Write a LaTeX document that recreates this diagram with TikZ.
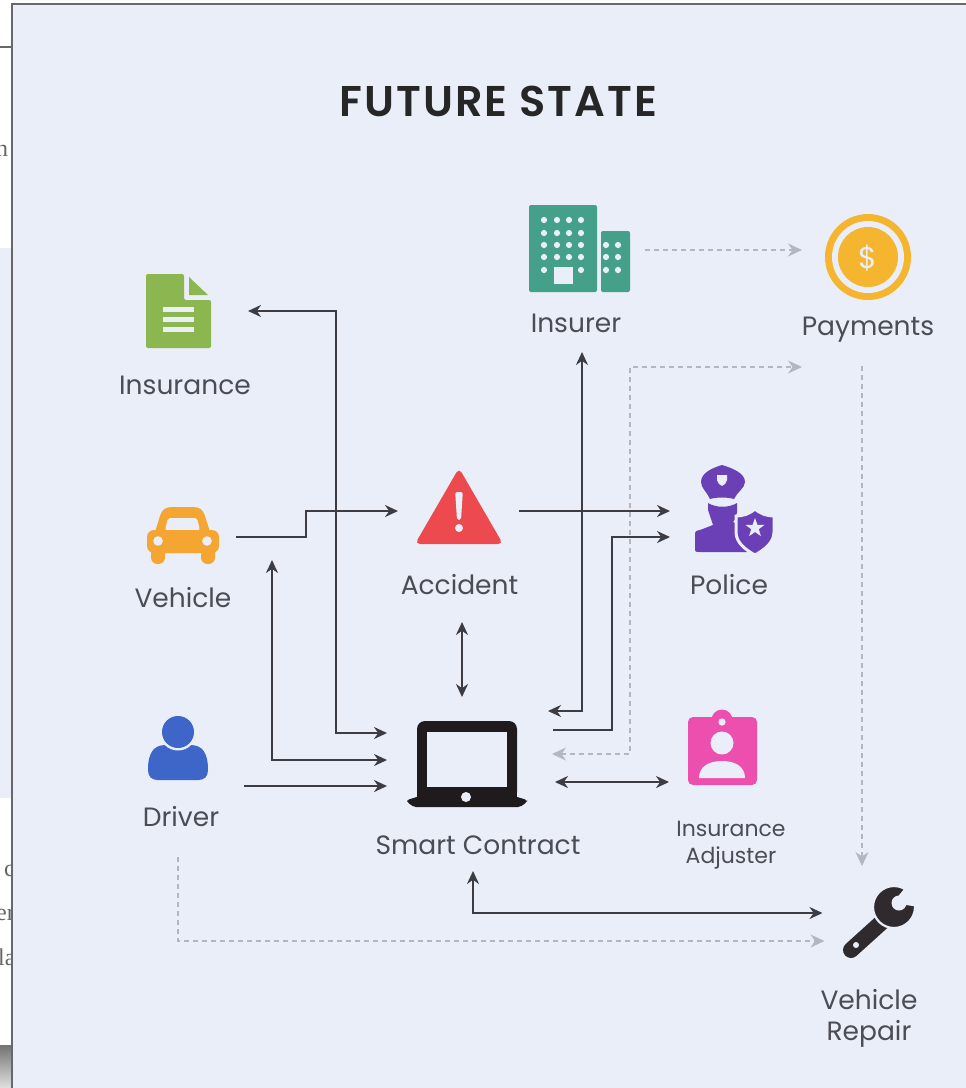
\documentclass[tikz,border=0pt]{standalone}
\usepackage{fontspec}
\setmainfont{Poppins}
\newfontfamily\fragfont{Liberation Serif}
\newfontfamily\titlefont[LetterSpace=4.5]{Poppins SemiBold}
\usetikzlibrary{arrows.meta}
\definecolor{panelbg}{HTML}{E9EEF9}
\definecolor{framecol}{HTML}{67676C}
\definecolor{inkcol}{HTML}{3C3C42}
\definecolor{dashcol}{HTML}{B4B7C0}
\definecolor{labelcol}{HTML}{4C4C54}
\definecolor{greencol}{HTML}{8BB650}
\definecolor{orangecol}{HTML}{F5A531}
\definecolor{redcol}{HTML}{EC4A4F}
\definecolor{bluecol}{HTML}{3D66C8}
\definecolor{tealcol}{HTML}{45A08A}
\definecolor{goldcol}{HTML}{F5B52E}
\definecolor{purplecol}{HTML}{6B3FB5}
\definecolor{pinkcol}{HTML}{EC4FAE}
\definecolor{darkcol}{HTML}{1F1B1D}
\definecolor{wrenchcol}{HTML}{2F2A2E}
\tikzset{
  hitbox/.style={rectangle,draw=none,fill=none,inner sep=0pt,outer sep=0pt},
  lbl/.style={text=labelcol,font=\fontsize{26.5}{31}\selectfont,align=center,inner sep=0pt},
  lblsmall/.style={text=labelcol,font=\fontsize{22}{27}\selectfont,align=center,inner sep=0pt},
  titlelbl/.style={text=black!85,font=\fontsize{43}{46}\titlefont,inner sep=0pt},
  frag/.style={text=black!60,font=\fontsize{24}{28}\fragfont,inner sep=0pt},
  solidone/.style={draw=inkcol,line width=2.1pt,-{Stealth[length=13pt,width=12pt]}},
  soliddbl/.style={draw=inkcol,line width=2.1pt,{Stealth[length=13pt,width=12pt]}-{Stealth[length=13pt,width=12pt]}},
  dashone/.style={draw=dashcol,line width=2pt,dash pattern=on 5pt off 4pt,-{Stealth[length=14pt,width=13pt]}},
  dashdbl/.style={draw=dashcol,line width=2pt,dash pattern=on 5pt off 4pt,{Stealth[length=14pt,width=13pt]}-{Stealth[length=14pt,width=13pt]}},
}
\begin{document}
\begin{tikzpicture}[x=1pt,y=-1pt]
\useasboundingbox (0,0) rectangle (966,1088);
\clip (0,0) rectangle (966,1088);
% page behind the panel
\fill[white] (0,0) rectangle (966,1088);
\fill[panelbg] (0,248) rectangle (12,798);
\fill[framecol] (0,46) rectangle (12,48);
\shade[top color=black!55,bottom color=black!12] (0,1045) rectangle (12,1088);
\node[frag,anchor=base west] (fragA) at (-4,156) {n};
\node[frag,anchor=base west] (fragB) at (4,876) {c};
\node[frag,anchor=base west] (fragC) at (-4,920) {er};
\node[frag,anchor=base west] (fragD) at (-2,965) {la};
% panel
\fill[panelbg] (12,4) rectangle (970,1092);
\draw[framecol,line width=2.4pt] (12,1092) -- (12,4) -- (970,4);
% title
\node[titlelbl,anchor=base] (title) at (498.5,116) {FUTURE STATE};

% hit boxes
\node[hitbox,minimum width=126pt,minimum height=130pt] (insurance) at (185,335) {};
\node[hitbox,minimum width=90pt,minimum height=105pt] (vehicle) at (191,557.5) {};
\node[hitbox,minimum width=121pt,minimum height=152pt] (accident) at (458.5,546) {};
\node[hitbox,minimum width=105pt,minimum height=137pt] (police) at (722.5,531.5) {};
\node[hitbox,minimum width=104pt,minimum height=142pt] (driver) at (192,786) {};
\node[hitbox,minimum width=166pt,minimum height=174pt] (smart) at (470,784) {};
\node[hitbox,minimum width=121pt,minimum height=160pt] (adjuster) at (729.5,790) {};
\node[hitbox,minimum width=120pt,minimum height=149pt] (insurer) at (585,277.5) {};
\node[hitbox,minimum width=133pt,minimum height=154pt] (payments) at (868.5,289) {};
\node[hitbox,minimum width=93pt,minimum height=179pt] (repair) at (869,955.5) {};
\coordinate (vehicleIn) at (272,560);

% labels
\node[lbl,anchor=base] (insuranceL) at (185,394) {Insurance};
\node[lbl,anchor=base] (vehicleL) at (183,607) {Vehicle};
\node[lbl,anchor=base] (accidentL) at (459.5,594) {Accident};
\node[lbl,anchor=base] (policeL) at (729,594) {Police};
\node[lbl,anchor=base] (driverL) at (181,826) {Driver};
\node[lbl,anchor=base] (smartL) at (478,854) {Smart Contract};
\node[lbl,anchor=base] (insurerL) at (576,332) {Insurer};
\node[lbl,anchor=base] (paymentsL) at (868,335) {Payments};
\node[lblsmall] (adjusterL) at (731,845.5) {Insurance\\Adjuster};
\node[lbl] (repairL) at (869,1018.5) {Vehicle\\Repair};

% connectors: solid
\draw[soliddbl] (insurance.east |- 0,311) -| (336,733) -- (smart.west |- 0,733);
\draw[solidone] (vehicle.east |- 0,537) -- (306,537) -- (306,511) -- (accident.west |- 0,511);
\draw[soliddbl] (vehicleIn) |- (smart.west |- 0,760);
\draw[solidone] (driver.east |- 0,786) -- (smart.west |- 0,786);
\draw[soliddbl] (accident.south -| 462,0) -- (smart.north -| 462,0);
\draw[solidone] (accident.east |- 0,511) -- (police.west |- 0,511);
\draw[solidone] (smart.east |- 0,730) -| (612,537) -- (police.west |- 0,537);
\draw[soliddbl] (insurer.south -| 582,0) |- ([xshift=-5pt]smart.east |- 0,711);
\draw[soliddbl] ([xshift=2pt]smart.east |- 0,782) -- (adjuster.west |- 0,782);
\draw[soliddbl] (smart.south -| 473,0) |- (repair.west |- 0,913);
% connectors: dashed
\draw[dashone] (insurer.east |- 0,250) -- (payments.west |- 0,250);
\draw[dashdbl] ([xshift=-1pt]smart.east |- 0,754) -| (630,367) -- (payments.west |- 0,367);
\draw[dashone] (payments.south -| 862,0) -- (repair.north -| 862,0);
\draw[dashone] (driver.south -| 178,0) |- ([xshift=2pt]repair.west |- 0,941);

% --- icons ---
% document
\fill[greencol,rounded corners=2pt] (146,274) -- (184,274) -- (184,300) -- (211,300) -- (211,348) -- (146,348) -- cycle;
\fill[greencol] (189,277) -- (208,295) -- (189,295) -- cycle;
\foreach \yy in {309,319,329}{\fill[panelbg] (163,\yy-2.5) rectangle (194,\yy+2.5);}
% car
\fill[orangecol] (155,532) -- (160,516) .. controls (162,510) and (165,507) .. (172,507) -- (193,507) .. controls (200,507) and (203,510) .. (205,516) -- (210,532) -- cycle;
\fill[panelbg,rounded corners=2pt] (168,518) -- (197,518) -- (200,530) -- (165,530) -- cycle;
\fill[orangecol,rounded corners=7pt] (147,530) rectangle (219,553);
\fill[orangecol,rounded corners=6.5pt] (151,542) rectangle (165,564);
\fill[orangecol,rounded corners=6.5pt] (201,542) rectangle (215,564);
\fill[panelbg] (158,541) circle (4.8);
\fill[panelbg] (207,541) circle (4.8);
% warning triangle
\fill[redcol,rounded corners=5pt] (459,468) -- (503,544) -- (415,544) -- cycle;
\fill[panelbg,rounded corners=2pt] (455.2,492) -- (462.8,492) -- (461,520) -- (457,520) -- cycle;
\fill[panelbg] (459,528) circle (4);
% driver
\fill[bluecol] (148,770) .. controls (148,752) and (154,745) .. (166,745) -- (190,745) .. controls (202,745) and (208,752) .. (208,770) .. controls (208,777) and (204,780) .. (198,780) -- (158,780) .. controls (152,780) and (148,777) .. (148,770) -- cycle;
\fill[panelbg] (178,732) circle (18.5);
\fill[bluecol] (178,732) circle (16);
% laptop
\fill[darkcol,rounded corners=8pt] (417,721) rectangle (517,800);
\fill[panelbg] (427,732) rectangle (507,787);
\fill[darkcol,rounded corners=2pt] (407,800) -- (420,796) -- (514,796) -- (527,800) -- (527,802) -- (520,807) -- (414,807) -- (407,802) -- cycle;
\fill[darkcol] (417,787) rectangle (517,798);
\fill[panelbg] (466,797) circle (5);
% adjuster badge
\fill[pinkcol] (722,720) circle (10.5);
\fill[pinkcol,rounded corners=5pt] (688,717) rectangle (757,785);
\fill[panelbg] (722,722) circle (3.6);
\fill[panelbg] (722,743) circle (11.5);
\fill[panelbg] (699,778) .. controls (699,767) and (708,761) .. (722,761) .. controls (736,761) and (745,767) .. (745,778) -- cycle;
% building
\fill[tealcol,rounded corners=2pt] (529,205) rectangle (597,292);
\fill[tealcol,rounded corners=2pt] (601,231) rectangle (630,292);
\foreach \xx in {544,557,569,581}{\foreach \yy in {220,233,245,257}{\fill[panelbg] (\xx,\yy) circle (3.1);}}
\fill[panelbg] (544,270) circle (3.1);
\fill[panelbg] (581,270) circle (3.1);
\foreach \xx in {606,618}{\foreach \yy in {245,257,270}{\fill[panelbg] (\xx,\yy) circle (3.1);}}
\fill[panelbg] (554,267) rectangle (573,284);
% coin
\fill[goldcol] (868,257) circle (43);
\fill[panelbg] (868,257) circle (36);
\fill[goldcol] (868,257) circle (30);
\node[text=panelbg,font=\fontsize{30}{32}\selectfont,inner sep=0pt] (dollar) at (868,258) {\$};
% police
\fill[purplecol] (722,465) .. controls (732,468) and (745,473) .. (745,482) .. controls (745,488) and (737,492) .. (734,499) .. controls (727,497) and (717,497) .. (710,499) .. controls (707,492) and (701,488) .. (701,482) .. controls (701,473) and (712,468) .. (722,465) -- cycle;
\fill[panelbg] (717,475) -- (727,475) -- (727,480) .. controls (727,483) and (724,485) .. (722,486) .. controls (720,485) and (717,483) .. (717,480) -- cycle;
\fill[purplecol] (708,503) .. controls (716,508) and (729,508) .. (737,503) -- (737,512) .. controls (736,518) .. (733,522) -- (750,530) -- (747,552) -- (700,552) .. controls (695,552) .. (695,547) -- (695,537) .. controls (695,531) .. (700,530) -- (713,525) .. controls (710,518) .. (708,510) -- cycle;
\filldraw[fill=purplecol,draw=panelbg,line width=3pt] (755,509) .. controls (761,514) and (767,516) .. (774,516) -- (774,532) .. controls (774,543) and (764,550) .. (755,555) .. controls (746,550) and (736,543) .. (736,532) -- (736,516) .. controls (743,516) and (749,514) .. (755,509) -- cycle;
\fill[panelbg] (755,518) -- (757.4,524.8) -- (764.5,524.9) -- (758.8,529.2) -- (760.9,536.1) -- (755,532) -- (749.1,536.1) -- (751.2,529.2) -- (745.5,524.9) -- (752.6,524.8) -- cycle;
% wrench
\draw[wrenchcol,line width=16pt,line cap=round] (851,950) -- (882,922);
\filldraw[fill=wrenchcol,draw=panelbg,line width=2.2pt] (894,907) circle (21);
\fill[panelbg] (899,903) circle (7.5);
\fill[panelbg] (896,899) -- (904,889) -- (922,884) -- (926,908) -- (906,905) -- cycle;
\fill[panelbg] (856,945) circle (3);
\end{tikzpicture}
\end{document}
